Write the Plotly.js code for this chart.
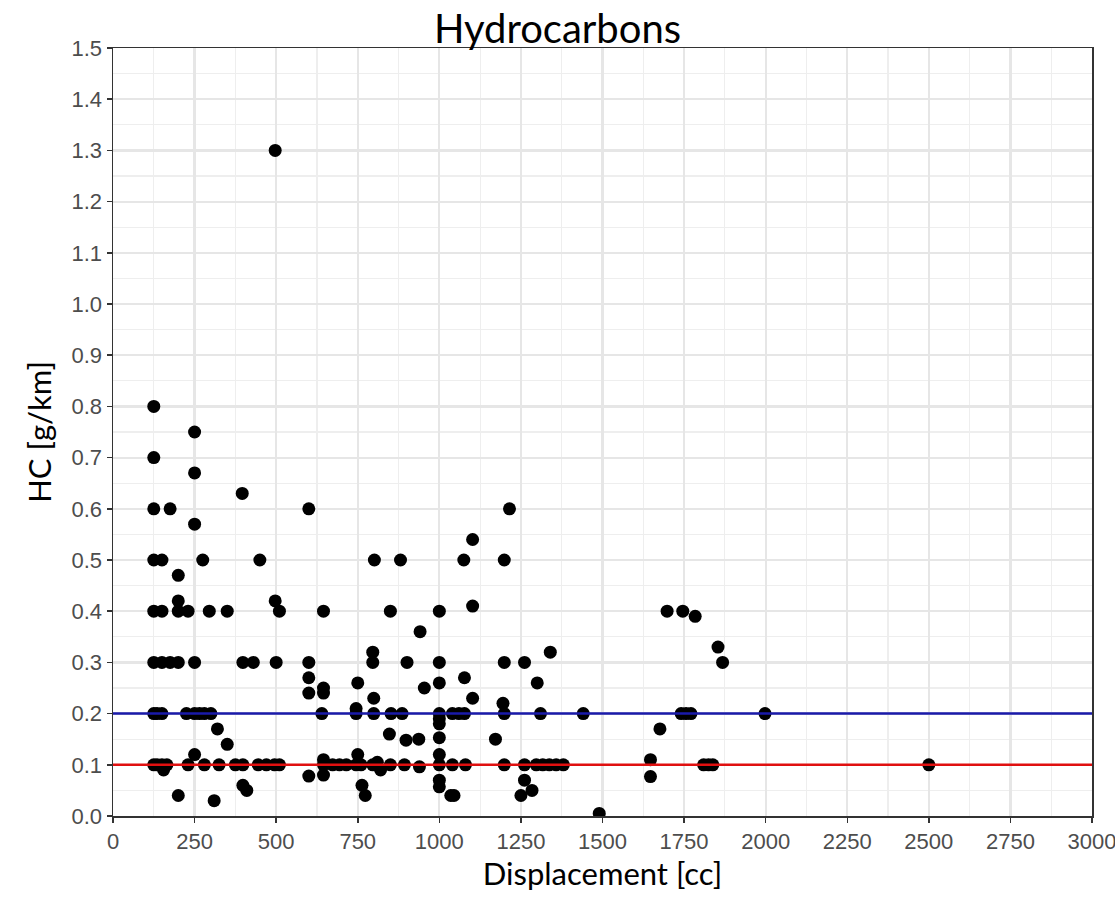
<!DOCTYPE html>
<html>
<head>
<meta charset="utf-8">
<script src="https://cdn.plot.ly/plotly-3.0.1.min.js"></script>
<style>html,body{margin:0;padding:0;background:#fff;}#chart{width:1115px;height:902px;}</style>
</head>
<body>
<div id="chart"></div>
<script>
// Displacement [cc]
const displacement = [
 125,125,125,175,125,150,125,150,125,150,175,200,125,135,150,125,135,150,155,165,
 200,200,200,230,200,
 250,250,250,275,250,225,250,265,280,300,250,230,280,
 295,350,320,350,310,325,375,398,398,410,396,398,430,450,445,470,495,
 497,497,510,500,510,
 600,600,600,600,600,645,645,645,640,645,645,645,673,694,715,
 750,745,745,750,745,760,763,773,796,796,799,799,801,796,810,820,850,847,852,850,881,886,898,901,893,939,937,941,954,
 1000,1000,1000,1000,1000,1000,1000,1000,1000,1000,1000,
 1040,1040,1035,1045,1075,1077,1077,1080,1060,1102,1102,1102,1172,1199,1215,1199,1195,1199,1199,
 1261,1261,1261,1250,1284,1300,1310,1297,1317,1337,1358,1380,1340,1441,1490,
 1647,1647,1676,1698,1746,1784,1854,1868,1741,1756,1771,1998,1810,1825,1838,2500
];
// HC [g/km]
const hc = [
 0.80,0.70,0.60,0.60,0.50,0.50,0.40,0.40,0.30,0.30,0.30,0.30,0.20,0.20,0.20,0.10,0.10,0.10,0.09,0.10,
 0.47,0.42,0.40,0.40,0.04,
 0.75,0.67,0.57,0.50,0.30,0.20,0.20,0.20,0.20,0.20,0.12,0.10,0.10,
 0.40,0.40,0.17,0.14,0.03,0.10,0.10,0.10,0.06,0.05,0.63,0.30,0.30,0.50,0.10,0.10,0.10,
 1.30,0.42,0.40,0.30,0.10,
 0.60,0.30,0.27,0.24,0.078,0.40,0.25,0.24,0.20,0.11,0.10,0.08,0.10,0.10,0.10,
 0.26,0.21,0.20,0.12,0.10,0.10,0.06,0.04,0.32,0.30,0.23,0.20,0.50,0.10,0.105,0.09,0.40,0.16,0.20,0.10,0.50,0.20,0.148,0.30,0.10,0.096,0.15,0.36,0.25,
 0.40,0.30,0.26,0.20,0.19,0.18,0.153,0.12,0.10,0.07,0.057,
 0.20,0.10,0.04,0.04,0.50,0.27,0.20,0.10,0.20,0.54,0.41,0.23,0.15,0.50,0.60,0.30,0.22,0.20,0.10,
 0.30,0.10,0.07,0.04,0.05,0.26,0.20,0.10,0.10,0.10,0.10,0.10,0.32,0.20,0.005,
 0.11,0.077,0.17,0.40,0.40,0.39,0.33,0.30,0.20,0.20,0.20,0.20,0.10,0.10,0.10,0.10
];
// Reference limits
const limitX = [0, 3000];
const limitBlue = [0.2, 0.2];
const limitRed = [0.1, 0.1];
// Ticks
const xTicks = [0,250,500,750,1000,1250,1500,1750,2000,2250,2500,2750,3000];
const yTicks = [0,0.1,0.2,0.3,0.4,0.5,0.6,0.7,0.8,0.9,1.0,1.1,1.2,1.3,1.4,1.5];

const traces = [
  {x: displacement, y: hc, type: 'scatter', mode: 'markers',
   marker: {color: '#000000', size: 13}, hoverinfo: 'x+y', cliponaxis: true},
  {x: limitX, y: limitBlue, type: 'scatter', mode: 'lines',
   line: {color: '#1a1aaa', width: 2.5}},
  {x: limitX, y: limitRed, type: 'scatter', mode: 'lines',
   line: {color: '#e01010', width: 2.5}}
];

const axisCommon = {
  showline: true, mirror: true, linecolor: '#333333', linewidth: 1.5,
  ticks: 'outside', ticklen: 5, tickcolor: '#333333', tickwidth: 1.5,
  showgrid: true, gridcolor: '#e6e6e6', gridwidth: 2.2,
  zeroline: false, ticklabeloverflow: 'allow',
  tickfont: {family: '"Liberation Sans", Arial, sans-serif', size: 22, color: '#4d4d4d'}
};

const layout = {
  width: 1115, height: 902,
  margin: {l: 113, r: 23, t: 48, b: 86},
  paper_bgcolor: '#ffffff', plot_bgcolor: '#ffffff',
  showlegend: false,
  title: {text: 'Hydrocarbons', x: 0.5, xanchor: 'center', y: 0.968, yanchor: 'middle',
          font: {family: 'Lato, Open Sans, sans-serif', size: 40, color: '#000000'}},
  xaxis: Object.assign({}, axisCommon, {
    range: [0, 3000], tickvals: xTicks, ticktext: xTicks.map(String),
    minor: {dtick: 125, tick0: 125, showgrid: true, gridcolor: '#eeeeee', gridwidth: 1.2, ticks: ''},
    title: {text: 'Displacement [cc]', standoff: 8,
            font: {family: 'Lato, Open Sans, sans-serif', size: 31, color: '#000000'}}
  }),
  yaxis: Object.assign({}, axisCommon, {
    range: [0, 1.5], tickvals: yTicks, ticktext: yTicks.map(v => v.toFixed(1)),
    minor: {dtick: 0.05, tick0: 0.05, showgrid: true, gridcolor: '#eeeeee', gridwidth: 1.2, ticks: ''},
    title: {text: 'HC [g/km]', standoff: 10,
            font: {family: 'Lato, Open Sans, sans-serif', size: 31, color: '#000000'}}
  })
};

Plotly.newPlot('chart', traces, layout, {displayModeBar: false, staticPlot: true});
</script>
</body>
</html>
